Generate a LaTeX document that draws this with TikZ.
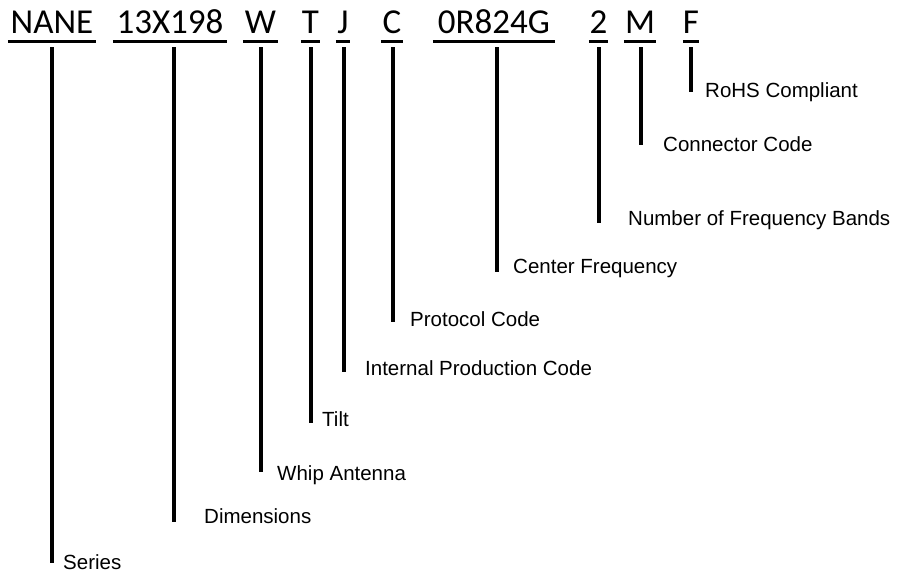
\documentclass[tikz,border=0pt]{standalone}
\usepackage{fontspec}
\newfontfamily\codefont{Carlito}
\newfontfamily\labfont{Liberation Sans}
\begin{document}
\begin{tikzpicture}[x=1pt,y=-1pt,
  code/.style={anchor=base,inner sep=0pt,font=\codefont\fontsize{35}{40}\selectfont},
  lab/.style={anchor=base west,inner sep=0pt,font=\labfont\fontsize{20.5}{24}\selectfont},
  uline/.style={line width=3pt},
  tick/.style={line width=4pt}]
\useasboundingbox (0,0) rectangle (897,574);
% code parts
\node[code,minimum width=88] (p1) at (52,33) {NANE};
\node[code,minimum width=114] (p2) at (170,33) {13X198};
\node[code,minimum width=35] (p3) at (260.5,33) {W};
\node[code,minimum width=19] (p4) at (310.5,33) {T};
\node[code,minimum width=14] (p5) at (343,33) {J};
\node[code,minimum width=22] (p6) at (392,33) {C};
\node[code,minimum width=122] (p7) at (494,33) {0R824G};
\node[code,minimum width=19] (p8) at (598.5,33) {2};
\node[code,minimum width=32] (p9) at (640,33) {M};
\node[code,minimum width=16] (p10) at (691,33) {F};
\foreach \i in {1,...,10}
  \draw[uline] ([yshift=-8pt]p\i.base west) -- ([yshift=-8pt]p\i.base east);
% line ends
\coordinate (e1) at (52,563);
\coordinate (e2) at (174,522);
\coordinate (e3) at (261,472);
\coordinate (e4) at (311,423);
\coordinate (e5) at (344,372);
\coordinate (e6) at (393,322);
\coordinate (e7) at (497,272);
\coordinate (e8) at (599,223);
\coordinate (e9) at (641,145);
\coordinate (e10) at (691,92);
% labels
\node[lab] (l1) at (63,569) {Series};
\node[lab] (l2) at (204,523) {Dimensions};
\node[lab] (l3) at (277,480) {Whip Antenna};
\node[lab] (l4) at (322,426) {Tilt};
\node[lab] (l5) at (365,375) {Internal Production Code};
\node[lab] (l6) at (410,326) {Protocol Code};
\node[lab] (l7) at (513,273) {Center Frequency};
\node[lab] (l8) at (628,225) {Number of Frequency Bands};
\node[lab] (l9) at (663,151) {Connector Code};
\node[lab] (l10) at (705,97) {RoHS Compliant};
\foreach \i in {1,...,10}
  \draw[tick] ([yshift=-14pt]p\i.base -| e\i) -- (e\i);
\end{tikzpicture}
\end{document}
